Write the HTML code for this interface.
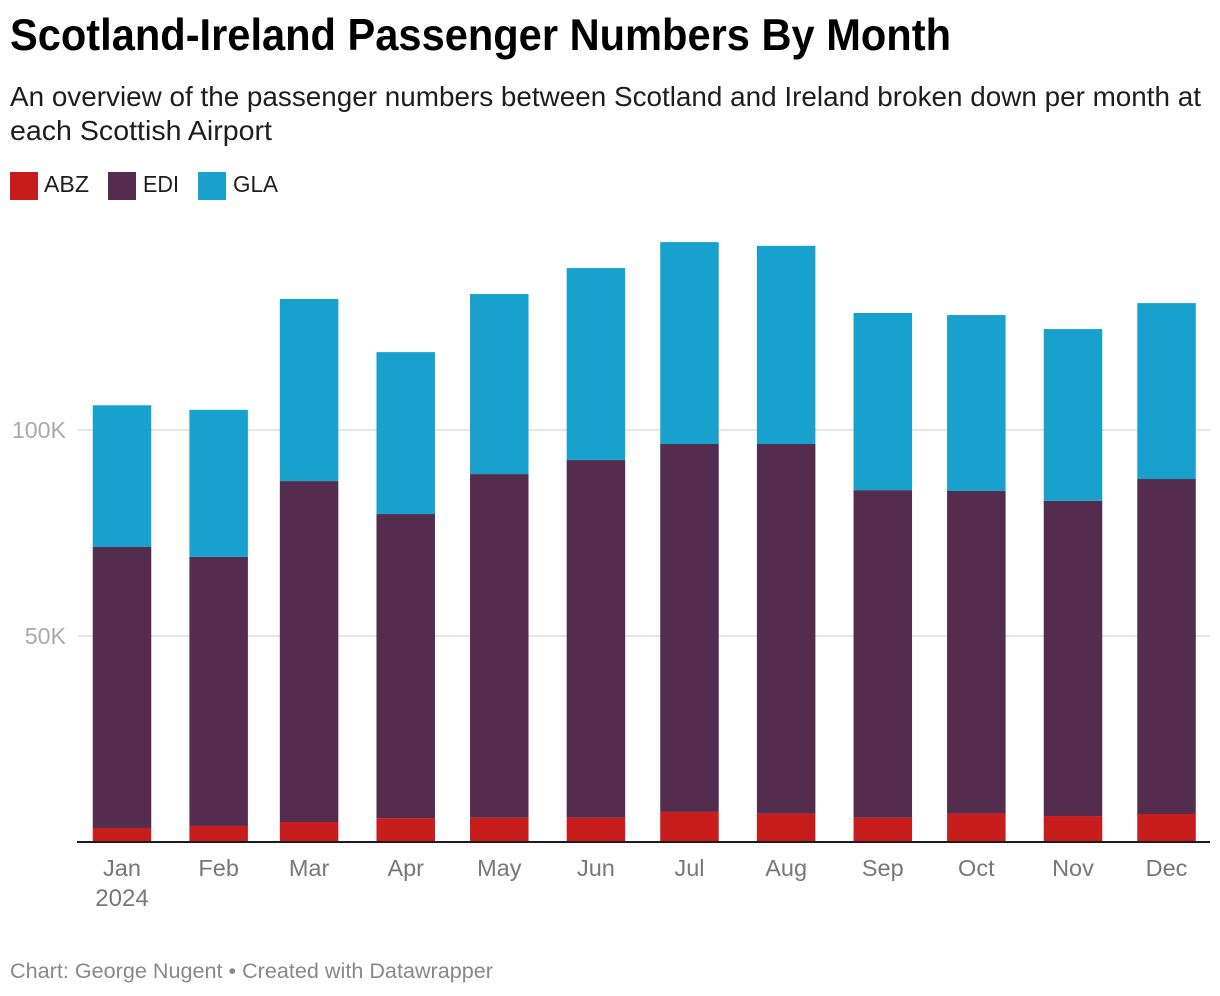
<!DOCTYPE html>
<html lang="en">
<head>
<meta charset="utf-8">
<title>Scotland-Ireland Passenger Numbers By Month</title>
<style>
html,body{margin:0;padding:0;background:#fff;}
body{width:1220px;height:996px;overflow:hidden;}
svg{display:block;font-family:"Liberation Sans",Arial,sans-serif;}
</style>
</head>
<body>
<svg id="chart" width="1220" height="996" viewBox="0 0 1220 996">
  <text x="10" y="50" font-size="44.5" font-weight="700" fill="#000" textLength="941" lengthAdjust="spacingAndGlyphs">Scotland-Ireland Passenger Numbers By Month</text>
  <text x="10" y="106" font-size="27.5" fill="#1d1d1d" textLength="1191" lengthAdjust="spacingAndGlyphs">An overview of the passenger numbers between Scotland and Ireland broken down per month at</text>
  <text x="10" y="140" font-size="27.5" fill="#1d1d1d" textLength="262" lengthAdjust="spacingAndGlyphs">each Scottish Airport</text>

  <g>
    <rect x="10" y="172" width="28" height="28" fill="#c71e1d"/>
    <text x="44" y="192" font-size="23" fill="#1d1d1d" textLength="45" lengthAdjust="spacingAndGlyphs">ABZ</text>
    <rect x="108" y="172" width="28" height="28" fill="#532c4e"/>
    <text x="143" y="192" font-size="23" fill="#1d1d1d" textLength="36" lengthAdjust="spacingAndGlyphs">EDI</text>
    <rect x="198" y="172" width="28" height="28" fill="#18a1cd"/>
    <text x="233" y="192" font-size="23" fill="#1d1d1d" textLength="45" lengthAdjust="spacingAndGlyphs">GLA</text>
  </g>

  <g id="grid"></g>
  <g id="bars"></g>
  <g id="xaxis"></g>

  <text x="10" y="978" font-size="21.5" fill="#888888" textLength="483" lengthAdjust="spacingAndGlyphs">Chart: George Nugent • Created with Datawrapper</text>
</svg>

<script>
const months = ["Jan","Feb","Mar","Apr","May","Jun","Jul","Aug","Sep","Oct","Nov","Dec"];
const abz = [3400,3900,4850,5800,5900,5900,7300,6900,5900,6900,6300,6800];
const edi = [68200,65300,82750,73800,83400,86800,89300,89700,79500,78300,76500,81300];
const gla = [34400,35700,44200,39300,43700,46600,49000,48100,43000,42700,41700,42700];
const yTicks = [50000,100000];
const yTickLabels = ["50K","100K"];
const yearLabel = "2024";
const year = 2024;

const NS = "http://www.w3.org/2000/svg";
const baseY = 842;
const pxPerUnit = 412 / 100000;
const barWidth = 58.5;

function yScale(v){ return baseY - v * pxPerUnit; }
function xScale(i){
  const days = (Date.UTC(year, i, 1) - Date.UTC(year, 0, 1)) / 86400000;
  return 122 + days * 3.118;
}

const grid = document.getElementById("grid");
const bars = document.getElementById("bars");
const xaxis = document.getElementById("xaxis");

yTicks.forEach(function(t, i){
  const line = document.createElementNS(NS, "rect");
  line.setAttribute("x", 78);
  line.setAttribute("y", yScale(t) - 1);
  line.setAttribute("width", 1132);
  line.setAttribute("height", 2);
  line.setAttribute("fill", "#e6e6e6");
  
  
  grid.appendChild(line);

  const label = document.createElementNS(NS, "text");
  label.setAttribute("x", 66);
  label.setAttribute("y", yScale(t) + 8);
  label.setAttribute("font-size", 23.2);
  label.setAttribute("fill", "#aaaaaa");
  label.setAttribute("text-anchor", "end");
  
  
  label.textContent = yTickLabels[i];
  grid.appendChild(label);
});

months.forEach(function(m, i){
  const cx = xScale(i);
  const left = cx - barWidth / 2;
  const y0 = yScale(0);
  const y1 = yScale(abz[i]);
  const y2 = yScale(abz[i] + edi[i]);
  const y3 = yScale(abz[i] + edi[i] + gla[i]);

  const barAbz = document.createElementNS(NS, "rect");
  barAbz.setAttribute("x", left);
  barAbz.setAttribute("y", y1);
  barAbz.setAttribute("width", barWidth);
  barAbz.setAttribute("height", y0 - y1);
  barAbz.setAttribute("fill", "#c71e1d");
  
  
  bars.appendChild(barAbz);

  const barEdi = document.createElementNS(NS, "rect");
  barEdi.setAttribute("x", left);
  barEdi.setAttribute("y", y2);
  barEdi.setAttribute("width", barWidth);
  barEdi.setAttribute("height", y1 - y2);
  barEdi.setAttribute("fill", "#532c4e");
  
  
  bars.appendChild(barEdi);

  const barGla = document.createElementNS(NS, "rect");
  barGla.setAttribute("x", left);
  barGla.setAttribute("y", y3);
  barGla.setAttribute("width", barWidth);
  barGla.setAttribute("height", y2 - y3);
  barGla.setAttribute("fill", "#18a1cd");
  
  
  bars.appendChild(barGla);

  const tick = document.createElementNS(NS, "text");
  tick.setAttribute("x", cx);
  tick.setAttribute("y", 876);
  tick.setAttribute("font-size", 23.5);
  tick.setAttribute("fill", "#777777");
  tick.setAttribute("text-anchor", "middle");
  
  
  tick.textContent = m;
  xaxis.appendChild(tick);
});

const yearText = document.createElementNS(NS, "text");
yearText.setAttribute("x", xScale(0));
yearText.setAttribute("y", 906);
yearText.setAttribute("font-size", 24);
yearText.setAttribute("fill", "#777777");
yearText.setAttribute("text-anchor", "middle");


yearText.textContent = yearLabel;
xaxis.appendChild(yearText);

const baseline = document.createElementNS(NS, "rect");
baseline.setAttribute("x", 77);
baseline.setAttribute("y", baseY - 1);
baseline.setAttribute("width", 1133);
baseline.setAttribute("height", 2);
baseline.setAttribute("fill", "#1d1d1d");


xaxis.appendChild(baseline);
</script>
</body>
</html>
